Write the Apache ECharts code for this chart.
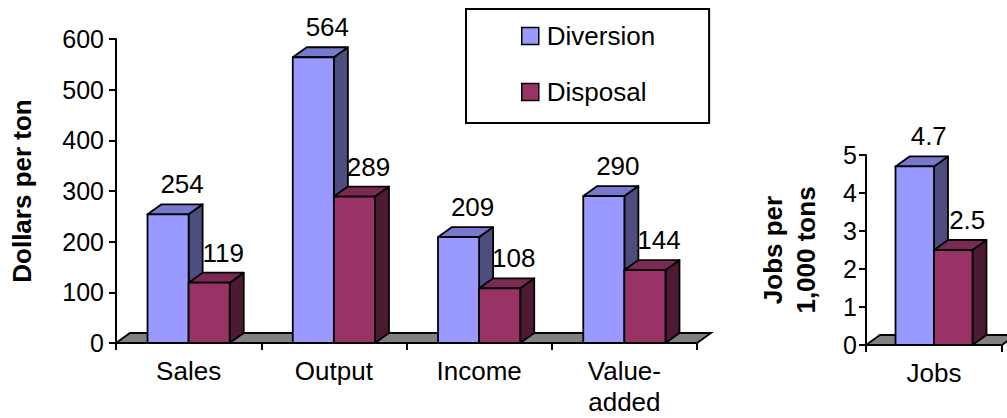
<!DOCTYPE html>
<html>
<head>
<meta charset="utf-8">
<script src="https://cdn.jsdelivr.net/npm/echarts@6/dist/echarts.min.js"></script>
<style>
  html, body { margin: 0; padding: 0; background: #ffffff; }
  #chart { width: 1007px; height: 418px; }
</style>
</head>
<body>
<div id="chart"></div>
<script>
// Economic impacts per ton: diversion versus disposal
const categories = ['Sales', 'Output', 'Income', 'Value-\nadded'];
const diversion = [254, 564, 209, 290];
const disposal = [119, 289, 108, 144];

// Employment per 1,000 tons
const jobsCategories = ['Jobs'];
const jobsDiversion = [4.7];
const jobsDisposal = [2.5];

const seriesNames = ['Diversion', 'Disposal'];
const dollarAxis = { min: 0, max: 600, interval: 100 };
const jobsAxis = { min: 0, max: 5, interval: 1 };

// Face shading for the extruded columns: front, top, side
const palette = {
  Diversion: { front: '#9999FF', top: '#7878CC', side: '#4D4D80' },
  Disposal: { front: '#993366', top: '#7A2952', side: '#4D1933' }
};

const FONT = '"Liberation Sans", Arial, Helvetica, sans-serif';
const DEPTH_X = 14;      // oblique depth offset of the 3-D effect
const DEPTH_Y = 10;
const BAR_RATIO = 0.283; // one column's width as a share of the category band
const EDGE = 1.8;

function columnRenderer(slot, colors) {
  return function (params, api) {
    const cat = api.value(0);
    const val = api.value(1);
    const base = api.coord([cat, 0]);
    const tip = api.coord([cat, val]);
    const band = api.size([1, 0])[0];
    const w = band * BAR_RATIO;
    const x0 = base[0] - w + slot * w;
    const x1 = x0 + w;
    const yb = base[1];
    const yt = tip[1];
    const stroke = { stroke: '#000', lineWidth: EDGE, lineJoin: 'round' };
    return {
      type: 'group',
      children: [
        {
          type: 'polygon',
          shape: { points: [[x1, yt], [x1 + DEPTH_X, yt - DEPTH_Y], [x1 + DEPTH_X, yb - DEPTH_Y], [x1, yb]] },
          style: Object.assign({ fill: colors.side }, stroke)
        },
        {
          type: 'polygon',
          shape: { points: [[x0, yt], [x0 + DEPTH_X, yt - DEPTH_Y], [x1 + DEPTH_X, yt - DEPTH_Y], [x1, yt]] },
          style: Object.assign({ fill: colors.top }, stroke)
        },
        {
          type: 'rect',
          shape: { x: x0, y: yt, width: w, height: yb - yt },
          style: Object.assign({ fill: colors.front }, stroke)
        },
        {
          type: 'text',
          z2: 10,
          style: {
            text: String(val),
            x: x0 + w / 2 + DEPTH_X,
            y: yt - DEPTH_Y - 7,
            align: 'center',
            verticalAlign: 'bottom',
            font: '26px ' + FONT,
            fill: '#000'
          }
        }
      ]
    };
  };
}

// Grey floor plane lying on the zero line of each plot
function floorRenderer(params, api) {
  const cs = params.coordSys;
  const y0 = api.coord([0, 0])[1];
  const xl = cs.x, xr = cs.x + cs.width;
  return {
    type: 'polygon',
    shape: { points: [[xl, y0], [xl + DEPTH_X, y0 - DEPTH_Y], [xr + DEPTH_X, y0 - DEPTH_Y], [xr, y0]] },
    style: { fill: '#808080', stroke: '#000', lineWidth: EDGE }
  };
}

function columns(name, slot, values, gridIndex) {
  return {
    name: name,
    type: 'custom',
    xAxisIndex: gridIndex,
    yAxisIndex: gridIndex,
    itemStyle: { color: palette[name].front },
    renderItem: columnRenderer(slot, palette[name]),
    encode: { x: 0, y: 1 },
    data: values.map(function (v, i) { return [i, v]; }),
    clip: false,
    z: 3
  };
}

function floor(gridIndex) {
  return {
    type: 'custom',
    xAxisIndex: gridIndex,
    yAxisIndex: gridIndex,
    silent: true,
    renderItem: floorRenderer,
    data: [[0, 0]],
    clip: false,
    z: 2
  };
}

const axisLine = { show: true, lineStyle: { color: '#000', width: 2 } };

function categoryAxis(gridIndex, data) {
  return {
    type: 'category',
    gridIndex: gridIndex,
    data: data,
    axisLine: axisLine,
    axisTick: { show: true, length: 7, lineStyle: { color: '#000', width: 2 } },
    axisLabel: { color: '#000', fontSize: 26, fontFamily: FONT, margin: 12, lineHeight: 31 },
    splitLine: { show: false }
  };
}

function valueAxis(gridIndex, range, margin) {
  return {
    type: 'value',
    gridIndex: gridIndex,
    min: range.min,
    max: range.max,
    interval: range.interval,
    axisLine: axisLine,
    axisTick: { show: true, length: 7, lineStyle: { color: '#000', width: 2 } },
    axisLabel: { color: '#000', fontSize: 25, fontFamily: FONT, margin: margin },
    splitLine: { show: false }
  };
}

const chart = echarts.init(document.getElementById('chart'), null, { renderer: 'svg' });

chart.setOption({
  animation: false,
  backgroundColor: '#ffffff',
  grid: [
    { left: 116, top: 39, width: 581, height: 304, outerBoundsMode: 'none' },
    { left: 866, top: 155, width: 136, height: 190, outerBoundsMode: 'none' }
  ],
  legend: {
    data: seriesNames,
    orient: 'vertical',
    left: 466,
    top: 9,
    icon: 'rect',
    itemWidth: 17,
    itemHeight: 17,
    itemGap: 30,
    padding: [14, 54, 18, 55],
    borderColor: '#000',
    borderWidth: 2,
    itemStyle: { borderColor: '#000', borderWidth: 1.5 },
    textStyle: { color: '#000', fontSize: 26, fontFamily: FONT, padding: [0, 0, 0, 3] }
  },
  xAxis: [categoryAxis(0, categories), categoryAxis(1, jobsCategories)],
  yAxis: [valueAxis(0, dollarAxis, 12), valueAxis(1, jobsAxis, 9)],
  graphic: [
    {
      type: 'text',
      x: 22,
      y: 191,
      rotation: Math.PI / 2,
      style: {
        text: 'Dollars per ton',
        font: 'bold 26px ' + FONT,
        fill: '#000',
        align: 'center',
        verticalAlign: 'middle'
      }
    },
    {
      type: 'text',
      x: 789,
      y: 250,
      rotation: Math.PI / 2,
      style: {
        text: 'Jobs per\n1,000 tons',
        font: 'bold 26px ' + FONT,
        lineHeight: 33,
        fill: '#000',
        align: 'center',
        verticalAlign: 'middle'
      }
    }
  ],
  series: [
    floor(0),
    floor(1),
    columns('Diversion', 0, diversion, 0),
    columns('Disposal', 1, disposal, 0),
    columns('Diversion', 0, jobsDiversion, 1),
    columns('Disposal', 1, jobsDisposal, 1)
  ]
});
</script>
</body>
</html>
